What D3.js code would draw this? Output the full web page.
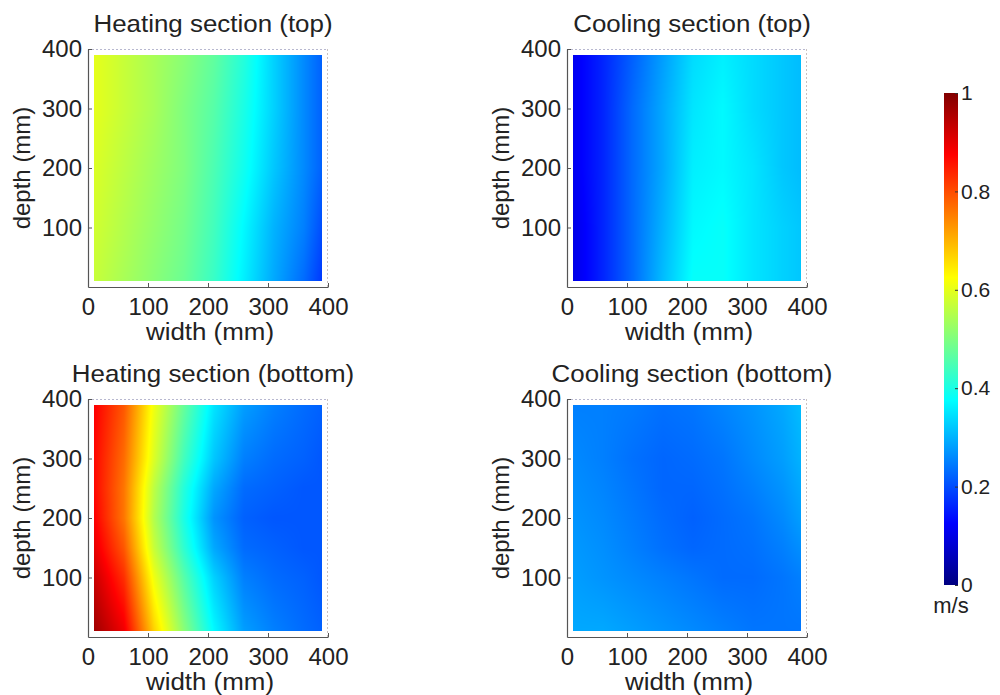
<!DOCTYPE html>
<html>
<head>
<meta charset="utf-8">
<script src="https://cdn.jsdelivr.net/npm/d3@7"></script>
<style>
  body { margin: 0; background: #fff; }
  svg { display: block; }
  text { font-family: "Liberation Sans", Arial, Helvetica, sans-serif; fill: #222; }
</style>
</head>
<body>
<svg id="chart" width="1000" height="695"></svg>
<script>
// Measurement grid (mm): columns across the width, rows up the depth
const gridX = [10, 60, 110, 160, 210, 260, 310, 360, 390];
const gridY = [10, 100, 150, 200, 250, 300, 390];

// Air velocity (m/s), one row per gridY entry (bottom row first)
const heatingTop = [
  [0.57, 0.54, 0.51, 0.48, 0.43, 0.36, 0.29, 0.23, 0.18],
  [0.58, 0.55, 0.52, 0.49, 0.44, 0.37, 0.30, 0.25, 0.20],
  [0.585, 0.555, 0.525, 0.495, 0.445, 0.38, 0.31, 0.255, 0.21],
  [0.59, 0.56, 0.53, 0.50, 0.45, 0.39, 0.32, 0.26, 0.22],
  [0.595, 0.565, 0.535, 0.50, 0.455, 0.395, 0.325, 0.26, 0.22],
  [0.60, 0.57, 0.54, 0.50, 0.46, 0.40, 0.33, 0.26, 0.22],
  [0.60, 0.57, 0.54, 0.51, 0.47, 0.41, 0.33, 0.26, 0.22]
];
const coolingTop = [
  [0.10, 0.16, 0.23, 0.31, 0.38, 0.38, 0.35, 0.33, 0.32],
  [0.10, 0.16, 0.23, 0.30, 0.37, 0.38, 0.35, 0.33, 0.32],
  [0.105, 0.16, 0.23, 0.295, 0.365, 0.375, 0.35, 0.325, 0.315],
  [0.11, 0.16, 0.23, 0.29, 0.36, 0.37, 0.35, 0.32, 0.31],
  [0.11, 0.16, 0.23, 0.29, 0.355, 0.37, 0.345, 0.32, 0.31],
  [0.11, 0.16, 0.23, 0.29, 0.35, 0.37, 0.34, 0.32, 0.31],
  [0.11, 0.16, 0.22, 0.28, 0.34, 0.36, 0.34, 0.32, 0.31]
];
const heatingBottom = [
  [0.97, 0.89, 0.67, 0.51, 0.37, 0.28, 0.25, 0.23, 0.22],
  [0.93, 0.83, 0.61, 0.46, 0.33, 0.25, 0.23, 0.22, 0.21],
  [0.90, 0.79, 0.57, 0.42, 0.29, 0.23, 0.22, 0.21, 0.21],
  [0.88, 0.76, 0.55, 0.40, 0.27, 0.22, 0.21, 0.21, 0.21],
  [0.87, 0.76, 0.56, 0.41, 0.29, 0.23, 0.22, 0.21, 0.21],
  [0.87, 0.77, 0.59, 0.44, 0.32, 0.25, 0.23, 0.22, 0.21],
  [0.88, 0.79, 0.61, 0.475, 0.35, 0.28, 0.25, 0.23, 0.22]
];
const coolingBottom = [
  [0.29, 0.29, 0.28, 0.27, 0.26, 0.25, 0.24, 0.24, 0.24],
  [0.28, 0.27, 0.26, 0.25, 0.24, 0.23, 0.23, 0.24, 0.25],
  [0.275, 0.265, 0.25, 0.235, 0.225, 0.23, 0.235, 0.25, 0.265],
  [0.27, 0.26, 0.245, 0.23, 0.22, 0.23, 0.24, 0.26, 0.28],
  [0.265, 0.255, 0.24, 0.225, 0.225, 0.235, 0.25, 0.27, 0.29],
  [0.26, 0.25, 0.235, 0.225, 0.23, 0.24, 0.26, 0.28, 0.30],
  [0.25, 0.25, 0.245, 0.235, 0.24, 0.255, 0.27, 0.29, 0.31]
];

const panelTitles = ["Heating section (top)", "Cooling section (top)",
                     "Heating section (bottom)", "Cooling section (bottom)"];
const panelData = [heatingTop, coolingTop, heatingBottom, coolingBottom];
const xTickValues = [0, 100, 200, 300, 400];
const yTickValues = [100, 200, 300, 400];
const colorbarTicks = [0, 0.2, 0.4, 0.6, 0.8, 1];
const colorbarTickLabels = ["0", "0.2", "0.4", "0.6", "0.8", "1"];

// Jet colour map
const jet = d3.scaleLinear()
  .domain([0, 0.125, 0.375, 0.625, 0.875, 1])
  .range(["#000080", "#0000ff", "#00ffff", "#ffff00", "#ff0000", "#800000"])
  .interpolate(d3.interpolateRgb)
  .clamp(true);

const svg = d3.select("#chart");

const W = 240, H = 238;
const origins = [[88, 49], [567, 49], [88, 399], [567, 399]];

// Bilinear sample of a grid at (xv, yv) in mm
function sample(grid, xv, yv) {
  const i = Math.max(0, Math.min(gridX.length - 2, d3.bisectRight(gridX, xv) - 1));
  const j = Math.max(0, Math.min(gridY.length - 2, d3.bisectRight(gridY, yv) - 1));
  const tx = Math.max(0, Math.min(1, (xv - gridX[i]) / (gridX[i + 1] - gridX[i])));
  const ty = Math.max(0, Math.min(1, (yv - gridY[j]) / (gridY[j + 1] - gridY[j])));
  const a = grid[j][i], b = grid[j][i + 1], c = grid[j + 1][i], d = grid[j + 1][i + 1];
  return (a * (1 - tx) + b * tx) * (1 - ty) + (c * (1 - tx) + d * tx) * ty;
}

function shadedImage(grid, x, y) {
  const canvas = document.createElement("canvas");
  canvas.width = W; canvas.height = H;
  const ctx = canvas.getContext("2d");
  const img = ctx.createImageData(W, H);
  const x0 = gridX[0], x1 = gridX[gridX.length - 1];
  const y0 = gridY[0], y1 = gridY[gridY.length - 1];
  for (let py = 0; py < H; py++) {
    const yv = y.invert(py + 0.5);
    if (yv < y0 || yv > y1) continue;
    for (let px = 0; px < W; px++) {
      const xv = x.invert(px + 0.5);
      if (xv < x0 || xv > x1) continue;
      const c = d3.rgb(jet(sample(grid, xv, yv)));
      const k = (py * W + px) * 4;
      img.data[k] = c.r; img.data[k + 1] = c.g; img.data[k + 2] = c.b; img.data[k + 3] = 255;
    }
  }
  ctx.putImageData(img, 0, 0);
  return canvas.toDataURL();
}

panelData.forEach((grid, p) => {
  const [ox, oy] = origins[p];
  const x = d3.scaleLinear().domain([0, 400]).range([0, W]);
  const y = d3.scaleLinear().domain([0, 400]).range([H, 0]);
  const g = svg.append("g").attr("transform", `translate(${ox},${oy})`);

  g.append("image")
    .attr("x", 0).attr("y", 0).attr("width", W).attr("height", H)
    .attr("preserveAspectRatio", "none")
    .attr("href", shadedImage(grid, x, y));

  // Box: light dotted top/right, solid left/bottom
  g.append("line").attr("x1", 0).attr("x2", W).attr("y1", 0.5).attr("y2", 0.5)
    .attr("stroke", "#b8b8d0").attr("stroke-dasharray", "2,2");
  g.append("line").attr("x1", W - 0.5).attr("x2", W - 0.5).attr("y1", 0).attr("y2", H)
    .attr("stroke", "#c8c0c0").attr("stroke-dasharray", "2,2");

  const xAxis = g.append("g").attr("transform", `translate(0,${H})`)
    .call(d3.axisBottom(x).tickValues(xTickValues).tickSizeInner(-4).tickSizeOuter(0).tickPadding(11));
  const yAxis = g.append("g")
    .call(d3.axisLeft(y).tickValues(yTickValues).tickSizeInner(-4).tickSizeOuter(0).tickPadding(6));
  [xAxis, yAxis].forEach(a => {
    a.attr("font-family", null).attr("font-size", null);
    a.select(".domain").attr("stroke", "#555").attr("stroke-width", 1.2);
    a.selectAll(".tick line").attr("stroke", "#555");
    a.selectAll(".tick text").style("font-size", "24px").attr("fill", "#222");
  });
  xAxis.selectAll(".tick text").attr("dy", "0.72em");

  g.append("text")
    .attr("transform", `translate(${W / 2 + 5},${-17}) scale(1.08,1)`)
    .attr("text-anchor", "middle").style("font-size", "24px")
    .text(panelTitles[p]);

  g.append("text")
    .attr("transform", `translate(${W / 2 + 2},${H + 53}) scale(1.08,1)`)
    .attr("text-anchor", "middle").style("font-size", "24px")
    .text("width (mm)");

  g.append("text")
    .attr("transform", `translate(-58,${H / 2}) rotate(-90)`)
    .attr("text-anchor", "middle").style("font-size", "24px")
    .text("depth (mm)");
});

// Colour bar
const cbX = 944, cbW = 14, cbTop = 93, cbBottom = 585;
const cbScale = d3.scaleLinear().domain([0, 1]).range([cbBottom, cbTop]);
const grad = svg.append("defs").append("linearGradient")
  .attr("id", "jetGrad").attr("x1", 0).attr("y1", 1).attr("x2", 0).attr("y2", 0);
jet.domain().forEach(v => {
  grad.append("stop").attr("offset", v).attr("stop-color", jet(v));
});
svg.append("rect")
  .attr("x", cbX).attr("y", cbTop).attr("width", cbW).attr("height", cbBottom - cbTop)
  .attr("fill", "url(#jetGrad)");

const cbAxis = svg.append("g").attr("transform", `translate(${cbX + cbW},0)`)
  .call(d3.axisRight(cbScale).tickValues(colorbarTicks)
    .tickFormat((d, i) => colorbarTickLabels[i]).tickSizeInner(-3).tickSizeOuter(0).tickPadding(3));
cbAxis.attr("font-family", null).attr("font-size", null);
cbAxis.select(".domain").remove();
cbAxis.selectAll(".tick line").attr("stroke", "#333");
cbAxis.selectAll(".tick text").style("font-size", "21px").attr("fill", "#222");

svg.append("text")
  .attr("x", cbX + 7).attr("y", 613)
  .attr("text-anchor", "middle").style("font-size", "22px")
  .text("m/s");
</script>
</body>
</html>
